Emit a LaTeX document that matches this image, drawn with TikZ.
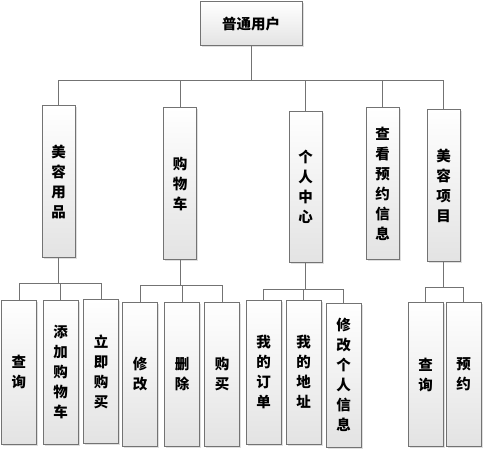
\documentclass[tikz,border=0pt]{standalone}
\usepackage{fontspec}
\usepackage{xcolor}
\usepackage{tikz}
\usetikzlibrary{shadows}
\newfontfamily\cjk{Noto Sans CJK SC}
\definecolor{edge}{rgb}{0.45,0.45,0.45}

\begin{document}
\begin{tikzpicture}[x=1pt,y=-1pt]
    \tikzstyle{box}=[draw=edge,line width=1pt,top color=white,bottom color=gray!22,
        drop shadow={opacity=0.25,shadow xshift=1.5pt,shadow yshift=-1.5pt},
        align=center,font=\cjk\bfseries\fontsize{14.5}{20}\selectfont,inner sep=0pt]
    \tikzstyle{top}=[minimum width=102pt,minimum height=44pt]
    \tikzstyle{mid}=[minimum width=33pt,minimum height=151pt]
    \tikzstyle{leaf}=[minimum width=35pt,minimum height=144pt]
    \tikzstyle{link}=[draw=edge,line width=1pt]

    \def\busa{34}
    \def\busb{26}

    \useasboundingbox (0,0) rectangle (485,452);

    % root
    \node[box,top]  (root) at (251,24) {普通用户};

    % second level
    \node[box,mid]  (c1) at (58.5,181.5) {美\\容\\用\\品};
    \node[box,mid]  (c2) at (180,183.5) {购\\物\\车};
    \node[box,mid]  (c3) at (305.5,187) {个\\人\\中\\心};
    \node[box,mid]  (c4) at (382.5,183.5) {查\\看\\预\\约\\信\\息};
    \node[box,mid]  (c5) at (443.5,185.5) {美\\容\\项\\目};

    % third level
    \node[box,leaf]  (g11) at (19,372) {查\\询};
    \node[box,leaf]  (g12) at (60.5,372) {添\\加\\购\\物\\车};
    \node[box,leaf]  (g13) at (101,371.5) {立\\即\\购\\买};

    \node[box,leaf]  (g21) at (140,374) {修\\改};
    \node[box,leaf]  (g22) at (182,374) {删\\除};
    \node[box,leaf]  (g23) at (222,374) {购\\买};

    \node[box,leaf]  (g31) at (263.5,372) {我\\的\\订\\单};
    \node[box,leaf]  (g32) at (303.5,372) {我\\的\\地\\址};
    \node[box,leaf]  (g33) at (343.5,375) {修\\改\\个\\人\\信\\息};

    \node[box,leaf]  (g41) at (425.5,374.5) {查\\询};
    \node[box,leaf]  (g42) at (463.5,374.5) {预\\约};

   \draw [link] (root.south) -- ++(0,\busa) -| (c1.north);
   \draw [link] (root.south) -- ++(0,\busa) -| (c2.north);
   \draw [link] (root.south) -- ++(0,\busa) -| (c3.north);
   \draw [link] (root.south) -- ++(0,\busa) -| (c4.north);
   \draw [link] (root.south) -- ++(0,\busa) -| (c5.north);

   \draw [link] (c1.south) -- ++(0,\busb) -| (g11.north);
   \draw [link] (c1.south) -- ++(0,\busb) -| (g12.north);
   \draw [link] (c1.south) -- ++(0,\busb) -| (g13.north);

   \draw [link] (c2.south) -- ++(0,\busb) -| (g21.north);
   \draw [link] (c2.south) -- ++(0,\busb) -| (g22.north);
   \draw [link] (c2.south) -- ++(0,\busb) -| (g23.north);

   \draw [link] (c3.south) -- ++(0,\busb) -| (g31.north);
   \draw [link] (c3.south) -- ++(0,\busb) -| (g32.north);
   \draw [link] (c3.south) -- ++(0,\busb) -| (g33.north);

   \draw [link] (c5.south) -- ++(0,\busb) -| (g41.north);
   \draw [link] (c5.south) -- ++(0,\busb) -| (g42.north);

\end{tikzpicture}
\end{document}
